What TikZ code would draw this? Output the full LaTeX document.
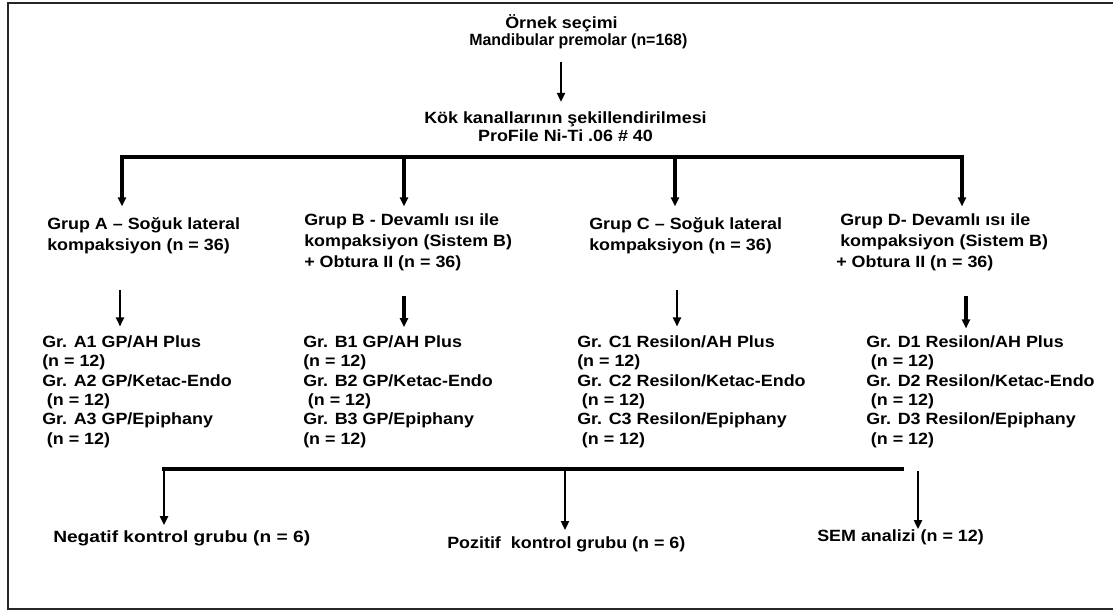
\documentclass[tikz,border=0pt]{standalone}
\usepackage{fontspec}
\newfontfamily\diagfont{Liberation Sans}[FakeStretch=1.1]
\usetikzlibrary{arrows.meta}
\newcommand\lsp{\hspace*{3.5pt}}
\begin{document}
\begin{tikzpicture}[x=0.75pt,y=-0.75pt,
  fs/.style={font=\diagfont\bfseries\fontsize{12.2pt}{#1}\selectfont},
  txt/.style={fs=#1, inner sep=0pt, align=left, anchor=west, text=black},
  frame/.style={draw=black!85, line width=1.6pt},
  bus/.style={draw=black, line width=2.4pt, line cap=rect},
  tip/.style={-{Triangle[length=6.8pt,width=6pt]}},
  droparr/.style={tip, draw=black, line width=2.6pt},
  thickarr/.style={tip, draw=black, line width=2.4pt},
  thinarr/.style={tip, draw=black, line width=1.5pt}
]
\useasboundingbox (0,0) rectangle (1113,611);
\draw[frame] (1113,3) -- (8,3) -- (8,609) -- (1113,609);

% top texts
\node[txt=12.5pt] (top) at (469,31.7) {\hspace*{27pt}Örnek seçimi\\\scalebox{0.89}[1]{Mandibular premolar (n=168)}};
\node[txt=13.3pt, align=center, anchor=center] (kok) at (565.5,127) {Kök kanallarının şekillendirilmesi\\ProFile Ni-Ti .06 \# 40};

% groups
\node[txt=15.75pt] (gA) at (47,235.5) {Grup A – Soğuk lateral\\kompaksiyon (n = 36)};
\node[txt=15.75pt] (gB) at (304,242) {Grup B - Devamlı ısı ile\\kompaksiyon (Sistem B)\\+ Obtura II (n = 36)};
\node[txt=15.75pt] (gC) at (589,235.5) {Grup C – Soğuk lateral\\kompaksiyon (n = 36)};
\node[txt=15.75pt] (gD) at (840,242) {Grup D- Devamlı ısı ile\\kompaksiyon (Sistem B)\\\hspace*{-3pt}+ Obtura II (n = 36)};

% leaves
\node[txt=14.55pt] (lA) at (42,391.5) {Gr. A1 GP/AH Plus\\(n = 12)\\Gr. A2 GP/Ketac-Endo\\\lsp(n = 12)\\Gr. A3 GP/Epiphany\\\lsp(n = 12)};
\node[txt=14.55pt] (lB) at (303,391.5) {Gr. B1 GP/AH Plus\\(n = 12)\\Gr. B2 GP/Ketac-Endo\\\lsp(n = 12)\\Gr. B3 GP/Epiphany\\(n = 12)};
\node[txt=14.55pt] (lC) at (577,391.5) {Gr. C1 Resilon/AH Plus\\(n = 12)\\Gr. C2 Resilon/Ketac-Endo\\\lsp(n = 12)\\Gr. C3 Resilon/Epiphany\\\lsp(n = 12)};
\node[txt=14.55pt] (lD) at (866,391.5) {Gr. D1 Resilon/AH Plus\\\lsp(n = 12)\\Gr. D2 Resilon/Ketac-Endo\\\lsp(n = 12)\\Gr. D3 Resilon/Epiphany\\\lsp(n = 12)};

% bottom
\node[txt=14pt] (neg) at (53,538) {\scalebox{1.07}[1]{Negatif kontrol grubu (n = 6)}};
\node[txt=14pt] (poz) at (447,544) {Pozitif\ \ kontrol grubu (n = 6)};
\node[txt=14pt] (sem) at (817,537) {SEM analizi (n = 12)};

% connectors
\coordinate (xtop) at (561,0);
\draw[thinarr, shorten <=9.5pt, shorten >=7.5pt] (top.south -| xtop) -- (kok.north -| xtop);

\coordinate (bA) at (122,157);
\coordinate (bB) at (404,157);
\coordinate (bC) at (675,157);
\coordinate (bD) at (962,157);
\draw[bus] (bA) -- (bD);
\draw[droparr, shorten >=8pt] (bA) -- (bA |- gA.north);
\draw[droparr, shorten >=5pt] (bB) -- (bB |- gB.north);
\draw[droparr, shorten >=8pt] (bC) -- (bC |- gC.north);
\draw[droparr, shorten >=5pt] (bD) -- (bD |- gD.north);

\coordinate (xA) at (120,0);
\coordinate (xB) at (404,0);
\coordinate (xC) at (677,0);
\coordinate (xD) at (966,0);
\draw[thinarr, shorten <=27pt, shorten >=6.5pt] (gA.south -| xA) -- (lA.north -| xA);
\draw[thickarr, shorten <=18.5pt, shorten >=6pt] (gB.south -| xB) -- (lB.north -| xB);
\draw[thinarr, shorten <=27pt, shorten >=6.5pt] (gC.south -| xC) -- (lC.north -| xC);
\draw[thickarr, shorten <=18.5pt, shorten >=5pt] (gD.south -| xD) -- (lD.north -| xD);

\coordinate (nb) at (164,469);
\coordinate (pb) at (565,469);
\coordinate (be) at (902,469);
\coordinate (st) at (918,471);
\draw[bus] (nb) -- (be);
\draw[thinarr, shorten >=3.7pt] (nb) -- (nb |- neg.north);
\draw[thinarr, shorten >=4.5pt] (pb) -- (pb |- poz.north);
\draw[thinarr] (st) -- (st |- sem.north);
\end{tikzpicture}
\end{document}
